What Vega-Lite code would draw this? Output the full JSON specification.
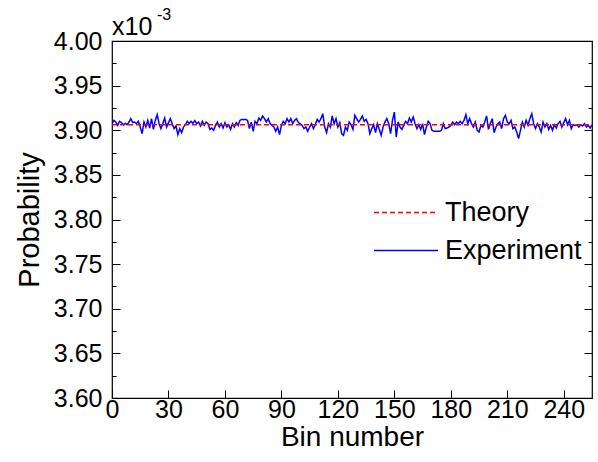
{
  "$schema": "https://vega.github.io/schema/vega-lite/v6.json",
  "autosize": {"type": "none"},
  "width": 480,
  "height": 357,
  "padding": {"left": 112, "top": 41, "right": 6, "bottom": 64},
  "background": "white",
  "config": {
    "font": "Liberation Sans",
    "view": {"stroke": "black", "strokeWidth": 1.2},
    "axis": {"labelFont": "Liberation Sans", "titleFont": "Liberation Sans", "labelColor": "black", "titleColor": "black", "domainColor": "black", "tickColor": "black", "grid": false, "titleFontWeight": "normal"}
  },
  "datasets": {
    "experiment": [
      {"bin":0,"p":3.9074,"series":"Experiment"},{"bin":1,"p":3.9111,"series":"Experiment"},{"bin":2,"p":3.9092,"series":"Experiment"},{"bin":3,"p":3.9055,"series":"Experiment"},{"bin":4,"p":3.9100,"series":"Experiment"},{"bin":5,"p":3.9085,"series":"Experiment"},{"bin":6,"p":3.9062,"series":"Experiment"},{"bin":7,"p":3.9077,"series":"Experiment"},{"bin":8,"p":3.9062,"series":"Experiment"},{"bin":9,"p":3.9092,"series":"Experiment"},
      {"bin":10,"p":3.9130,"series":"Experiment"},{"bin":11,"p":3.9085,"series":"Experiment"},{"bin":12,"p":3.9092,"series":"Experiment"},{"bin":13,"p":3.9074,"series":"Experiment"},{"bin":14,"p":3.9100,"series":"Experiment"},{"bin":15,"p":3.9036,"series":"Experiment"},{"bin":16,"p":3.8962,"series":"Experiment"},{"bin":17,"p":3.9092,"series":"Experiment"},{"bin":18,"p":3.9036,"series":"Experiment"},{"bin":19,"p":3.9111,"series":"Experiment"},
      {"bin":20,"p":3.9025,"series":"Experiment"},{"bin":21,"p":3.9130,"series":"Experiment"},{"bin":22,"p":3.9010,"series":"Experiment"},{"bin":23,"p":3.9111,"series":"Experiment"},{"bin":24,"p":3.9175,"series":"Experiment"},{"bin":25,"p":3.9074,"series":"Experiment"},{"bin":26,"p":3.9018,"series":"Experiment"},{"bin":27,"p":3.9074,"series":"Experiment"},{"bin":28,"p":3.9137,"series":"Experiment"},{"bin":29,"p":3.9036,"series":"Experiment"},
      {"bin":30,"p":3.9085,"series":"Experiment"},{"bin":31,"p":3.9130,"series":"Experiment"},{"bin":32,"p":3.9074,"series":"Experiment"},{"bin":33,"p":3.9018,"series":"Experiment"},{"bin":34,"p":3.9048,"series":"Experiment"},{"bin":35,"p":3.8951,"series":"Experiment"},{"bin":36,"p":3.9018,"series":"Experiment"},{"bin":37,"p":3.8973,"series":"Experiment"},{"bin":38,"p":3.9036,"series":"Experiment"},{"bin":39,"p":3.9062,"series":"Experiment"},
      {"bin":40,"p":3.9100,"series":"Experiment"},{"bin":41,"p":3.9074,"series":"Experiment"},{"bin":42,"p":3.9100,"series":"Experiment"},{"bin":43,"p":3.9077,"series":"Experiment"},{"bin":44,"p":3.9107,"series":"Experiment"},{"bin":45,"p":3.9074,"series":"Experiment"},{"bin":46,"p":3.9092,"series":"Experiment"},{"bin":47,"p":3.9048,"series":"Experiment"},{"bin":48,"p":3.9100,"series":"Experiment"},{"bin":49,"p":3.9055,"series":"Experiment"},
      {"bin":50,"p":3.9092,"series":"Experiment"},{"bin":51,"p":3.9074,"series":"Experiment"},{"bin":52,"p":3.9010,"series":"Experiment"},{"bin":53,"p":3.9025,"series":"Experiment"},{"bin":54,"p":3.8999,"series":"Experiment"},{"bin":55,"p":3.9055,"series":"Experiment"},{"bin":56,"p":3.9092,"series":"Experiment"},{"bin":57,"p":3.9036,"series":"Experiment"},{"bin":58,"p":3.9074,"series":"Experiment"},{"bin":59,"p":3.9025,"series":"Experiment"},
      {"bin":60,"p":3.9085,"series":"Experiment"},{"bin":61,"p":3.9036,"series":"Experiment"},{"bin":62,"p":3.9062,"series":"Experiment"},{"bin":63,"p":3.9010,"series":"Experiment"},{"bin":64,"p":3.9074,"series":"Experiment"},{"bin":65,"p":3.9036,"series":"Experiment"},{"bin":66,"p":3.9085,"series":"Experiment"},{"bin":67,"p":3.9055,"series":"Experiment"},{"bin":68,"p":3.9111,"series":"Experiment"},{"bin":69,"p":3.9122,"series":"Experiment"},
      {"bin":70,"p":3.9119,"series":"Experiment"},{"bin":71,"p":3.9122,"series":"Experiment"},{"bin":72,"p":3.9111,"series":"Experiment"},{"bin":73,"p":3.9018,"series":"Experiment"},{"bin":74,"p":3.9092,"series":"Experiment"},{"bin":75,"p":3.8988,"series":"Experiment"},{"bin":76,"p":3.9100,"series":"Experiment"},{"bin":77,"p":3.9074,"series":"Experiment"},{"bin":78,"p":3.9137,"series":"Experiment"},{"bin":79,"p":3.9111,"series":"Experiment"},
      {"bin":80,"p":3.9160,"series":"Experiment"},{"bin":81,"p":3.9130,"series":"Experiment"},{"bin":82,"p":3.9092,"series":"Experiment"},{"bin":83,"p":3.9130,"series":"Experiment"},{"bin":84,"p":3.9074,"series":"Experiment"},{"bin":85,"p":3.9055,"series":"Experiment"},{"bin":86,"p":3.9036,"series":"Experiment"},{"bin":87,"p":3.8988,"series":"Experiment"},{"bin":88,"p":3.9036,"series":"Experiment"},{"bin":89,"p":3.8951,"series":"Experiment"},
      {"bin":90,"p":3.9055,"series":"Experiment"},{"bin":91,"p":3.9100,"series":"Experiment"},{"bin":92,"p":3.9074,"series":"Experiment"},{"bin":93,"p":3.9130,"series":"Experiment"},{"bin":94,"p":3.9092,"series":"Experiment"},{"bin":95,"p":3.9130,"series":"Experiment"},{"bin":96,"p":3.9074,"series":"Experiment"},{"bin":97,"p":3.9111,"series":"Experiment"},{"bin":98,"p":3.9130,"series":"Experiment"},{"bin":99,"p":3.9085,"series":"Experiment"},
      {"bin":100,"p":3.9074,"series":"Experiment"},{"bin":101,"p":3.9055,"series":"Experiment"},{"bin":102,"p":3.9018,"series":"Experiment"},{"bin":103,"p":3.9036,"series":"Experiment"},{"bin":104,"p":3.8988,"series":"Experiment"},{"bin":105,"p":3.9036,"series":"Experiment"},{"bin":106,"p":3.9074,"series":"Experiment"},{"bin":107,"p":3.9018,"series":"Experiment"},{"bin":108,"p":3.9062,"series":"Experiment"},{"bin":109,"p":3.9122,"series":"Experiment"},
      {"bin":110,"p":3.9092,"series":"Experiment"},{"bin":111,"p":3.9130,"series":"Experiment"},{"bin":112,"p":3.9186,"series":"Experiment"},{"bin":113,"p":3.9036,"series":"Experiment"},{"bin":114,"p":3.8973,"series":"Experiment"},{"bin":115,"p":3.9074,"series":"Experiment"},{"bin":116,"p":3.9036,"series":"Experiment"},{"bin":117,"p":3.9160,"series":"Experiment"},{"bin":118,"p":3.9074,"series":"Experiment"},{"bin":119,"p":3.9130,"series":"Experiment"},
      {"bin":120,"p":3.9036,"series":"Experiment"},{"bin":121,"p":3.9085,"series":"Experiment"},{"bin":122,"p":3.8962,"series":"Experiment"},{"bin":123,"p":3.8943,"series":"Experiment"},{"bin":124,"p":3.9036,"series":"Experiment"},{"bin":125,"p":3.8999,"series":"Experiment"},{"bin":126,"p":3.9092,"series":"Experiment"},{"bin":127,"p":3.9062,"series":"Experiment"},{"bin":128,"p":3.9010,"series":"Experiment"},{"bin":129,"p":3.9167,"series":"Experiment"},
      {"bin":130,"p":3.9130,"series":"Experiment"},{"bin":131,"p":3.9092,"series":"Experiment"},{"bin":132,"p":3.9122,"series":"Experiment"},{"bin":133,"p":3.9160,"series":"Experiment"},{"bin":134,"p":3.9100,"series":"Experiment"},{"bin":135,"p":3.9122,"series":"Experiment"},{"bin":136,"p":3.9074,"series":"Experiment"},{"bin":137,"p":3.8962,"series":"Experiment"},{"bin":138,"p":3.9018,"series":"Experiment"},{"bin":139,"p":3.9062,"series":"Experiment"},
      {"bin":140,"p":3.8973,"series":"Experiment"},{"bin":141,"p":3.9074,"series":"Experiment"},{"bin":142,"p":3.9010,"series":"Experiment"},{"bin":143,"p":3.8943,"series":"Experiment"},{"bin":144,"p":3.9036,"series":"Experiment"},{"bin":145,"p":3.9092,"series":"Experiment"},{"bin":146,"p":3.9130,"series":"Experiment"},{"bin":147,"p":3.9074,"series":"Experiment"},{"bin":148,"p":3.8962,"series":"Experiment"},{"bin":149,"p":3.9111,"series":"Experiment"},
      {"bin":150,"p":3.9204,"series":"Experiment"},{"bin":151,"p":3.8924,"series":"Experiment"},{"bin":152,"p":3.9092,"series":"Experiment"},{"bin":153,"p":3.9036,"series":"Experiment"},{"bin":154,"p":3.9010,"series":"Experiment"},{"bin":155,"p":3.9055,"series":"Experiment"},{"bin":156,"p":3.9100,"series":"Experiment"},{"bin":157,"p":3.9074,"series":"Experiment"},{"bin":158,"p":3.9137,"series":"Experiment"},{"bin":159,"p":3.9092,"series":"Experiment"},
      {"bin":160,"p":3.9149,"series":"Experiment"},{"bin":161,"p":3.9074,"series":"Experiment"},{"bin":162,"p":3.9018,"series":"Experiment"},{"bin":163,"p":3.9062,"series":"Experiment"},{"bin":164,"p":3.9010,"series":"Experiment"},{"bin":165,"p":3.9074,"series":"Experiment"},{"bin":166,"p":3.8951,"series":"Experiment"},{"bin":167,"p":3.9036,"series":"Experiment"},{"bin":168,"p":3.9100,"series":"Experiment"},{"bin":169,"p":3.9074,"series":"Experiment"},
      {"bin":170,"p":3.8999,"series":"Experiment"},{"bin":171,"p":3.8988,"series":"Experiment"},{"bin":172,"p":3.8988,"series":"Experiment"},{"bin":173,"p":3.8988,"series":"Experiment"},{"bin":174,"p":3.8988,"series":"Experiment"},{"bin":175,"p":3.8999,"series":"Experiment"},{"bin":176,"p":3.9074,"series":"Experiment"},{"bin":177,"p":3.9018,"series":"Experiment"},{"bin":178,"p":3.9025,"series":"Experiment"},{"bin":179,"p":3.9036,"series":"Experiment"},
      {"bin":180,"p":3.9055,"series":"Experiment"},{"bin":181,"p":3.9092,"series":"Experiment"},{"bin":182,"p":3.9062,"series":"Experiment"},{"bin":183,"p":3.9092,"series":"Experiment"},{"bin":184,"p":3.9074,"series":"Experiment"},{"bin":185,"p":3.9100,"series":"Experiment"},{"bin":186,"p":3.9074,"series":"Experiment"},{"bin":187,"p":3.9111,"series":"Experiment"},{"bin":188,"p":3.9175,"series":"Experiment"},{"bin":189,"p":3.9074,"series":"Experiment"},
      {"bin":190,"p":3.9130,"series":"Experiment"},{"bin":191,"p":3.9074,"series":"Experiment"},{"bin":192,"p":3.9036,"series":"Experiment"},{"bin":193,"p":3.9092,"series":"Experiment"},{"bin":194,"p":3.8999,"series":"Experiment"},{"bin":195,"p":3.8981,"series":"Experiment"},{"bin":196,"p":3.9055,"series":"Experiment"},{"bin":197,"p":3.9036,"series":"Experiment"},{"bin":198,"p":3.9092,"series":"Experiment"},{"bin":199,"p":3.9160,"series":"Experiment"},
      {"bin":200,"p":3.9010,"series":"Experiment"},{"bin":201,"p":3.9074,"series":"Experiment"},{"bin":202,"p":3.9130,"series":"Experiment"},{"bin":203,"p":3.8973,"series":"Experiment"},{"bin":204,"p":3.9036,"series":"Experiment"},{"bin":205,"p":3.9074,"series":"Experiment"},{"bin":206,"p":3.9092,"series":"Experiment"},{"bin":207,"p":3.9018,"series":"Experiment"},{"bin":208,"p":3.9130,"series":"Experiment"},{"bin":209,"p":3.9167,"series":"Experiment"},
      {"bin":210,"p":3.9092,"series":"Experiment"},{"bin":211,"p":3.9074,"series":"Experiment"},{"bin":212,"p":3.9111,"series":"Experiment"},{"bin":213,"p":3.9018,"series":"Experiment"},{"bin":214,"p":3.9036,"series":"Experiment"},{"bin":215,"p":3.8981,"series":"Experiment"},{"bin":216,"p":3.8906,"series":"Experiment"},{"bin":217,"p":3.8999,"series":"Experiment"},{"bin":218,"p":3.9092,"series":"Experiment"},{"bin":219,"p":3.9036,"series":"Experiment"},
      {"bin":220,"p":3.9111,"series":"Experiment"},{"bin":221,"p":3.9055,"series":"Experiment"},{"bin":222,"p":3.9130,"series":"Experiment"},{"bin":223,"p":3.9186,"series":"Experiment"},{"bin":224,"p":3.9074,"series":"Experiment"},{"bin":225,"p":3.9018,"series":"Experiment"},{"bin":226,"p":3.9074,"series":"Experiment"},{"bin":227,"p":3.9036,"series":"Experiment"},{"bin":228,"p":3.8981,"series":"Experiment"},{"bin":229,"p":3.9092,"series":"Experiment"},
      {"bin":230,"p":3.9036,"series":"Experiment"},{"bin":231,"p":3.9074,"series":"Experiment"},{"bin":232,"p":3.9010,"series":"Experiment"},{"bin":233,"p":3.9055,"series":"Experiment"},{"bin":234,"p":3.8999,"series":"Experiment"},{"bin":235,"p":3.9062,"series":"Experiment"},{"bin":236,"p":3.9025,"series":"Experiment"},{"bin":237,"p":3.9074,"series":"Experiment"},{"bin":238,"p":3.9100,"series":"Experiment"},{"bin":239,"p":3.9036,"series":"Experiment"},
      {"bin":240,"p":3.9085,"series":"Experiment"},{"bin":241,"p":3.9130,"series":"Experiment"},{"bin":242,"p":3.9062,"series":"Experiment"},{"bin":243,"p":3.9111,"series":"Experiment"},{"bin":244,"p":3.9018,"series":"Experiment"},{"bin":245,"p":3.9062,"series":"Experiment"},{"bin":246,"p":3.9055,"series":"Experiment"},{"bin":247,"p":3.9062,"series":"Experiment"},{"bin":248,"p":3.9036,"series":"Experiment"},{"bin":249,"p":3.9062,"series":"Experiment"},
      {"bin":250,"p":3.9048,"series":"Experiment"},{"bin":251,"p":3.9074,"series":"Experiment"},{"bin":252,"p":3.9036,"series":"Experiment"},{"bin":253,"p":3.9055,"series":"Experiment"},{"bin":254,"p":3.9025,"series":"Experiment"},{"bin":255,"p":3.9062,"series":"Experiment"}
    ],
    "theory": [
      {"bin":0,"p":3.90625,"series":"Theory"},
      {"bin":255,"p":3.90625,"series":"Theory"}
    ],
    "scale": [{"bin":0,"p":4.0,"text":"x10","sup":"-3"}]
  },
  "layer": [
    {
      "data": {"name": "experiment"},
      "mark": {"type": "line", "strokeWidth": 1.5, "clip": true},
      "encoding": {
        "x": {"field": "bin", "type": "quantitative", "scale": {"domain": [0, 255], "nice": false, "zero": false},
          "axis": {"title": "Bin number", "titleFontSize": 28, "titlePadding": 1, "labelFontSize": 25, "values": [0,15,30,45,60,75,90,105,120,135,150,165,180,195,210,225,240],
            "labelExpr": "datum.value % 30 === 0 ? datum.label : ''", "labelOverlap": false, "labelPadding": 7, "labelFlush": false,
            "tickSize": {"condition": {"test": "datum.value % 30 === 0", "value": -8}, "value": -4}, "domain": false}},
        "y": {"field": "p", "type": "quantitative", "scale": {"domain": [3.6, 4.0], "nice": false, "zero": false},
          "axis": {"title": "Probability", "titleFontSize": 29, "titlePadding": 9, "labelFontSize": 25, "format": ".2f",
            "values": [3.6,3.625,3.65,3.675,3.7,3.725,3.75,3.775,3.8,3.825,3.85,3.875,3.9,3.925,3.95,3.975,4.0],
            "labelExpr": "round(datum.value*1000) % 50 === 0 ? datum.label : ''", "labelOverlap": false, "labelPadding": 18, "labelFlush": false,
            "tickSize": {"condition": {"test": "round(datum.value*1000) % 50 === 0", "value": -8}, "value": -4}, "domain": false}},
        "color": {"field": "series", "type": "nominal", "scale": {"domain": ["Theory", "Experiment"], "range": ["#ff0000", "#0000ff"]},
          "legend": {"title": null, "orient": "none", "legendX": 261, "legendY": 159, "symbolType": "stroke", "symbolSize": 4096, "symbolStrokeWidth": 1.5, "labelFontSize": 27, "labelFont": "Liberation Sans", "labelColor": "black", "labelOffset": 6, "clipHeight": 25, "rowPadding": 10, "padding": 0}},
        "strokeDash": {"field": "series", "type": "nominal", "scale": {"domain": ["Theory", "Experiment"], "range": [[5, 3], [1, 0]]}}
      }
    },
    {
      "data": {"name": "theory"},
      "mark": {"type": "line", "strokeWidth": 1.5},
      "encoding": {
        "x": {"field": "bin", "type": "quantitative"},
        "y": {"field": "p", "type": "quantitative",
          "axis": {"orient": "right", "title": null, "labels": false, "domain": false,
            "values": [3.6,3.625,3.65,3.675,3.7,3.725,3.75,3.775,3.8,3.825,3.85,3.875,3.9,3.925,3.95,3.975,4.0],
            "tickSize": {"condition": {"test": "round(datum.value*1000) % 50 === 0", "value": -8}, "value": -4}}},
        "color": {"field": "series", "type": "nominal"},
        "strokeDash": {"field": "series", "type": "nominal"}
      }
    },
    {
      "data": {"name": "scale"},
      "mark": {"type": "text", "align": "left", "baseline": "alphabetic", "fontSize": 25, "font": "Liberation Sans", "dy": -6, "color": "black"},
      "encoding": {
        "x": {"field": "bin", "type": "quantitative"},
        "y": {"field": "p", "type": "quantitative", "axis": null},
        "text": {"field": "text"}
      }
    },
    {
      "data": {"name": "scale"},
      "mark": {"type": "text", "align": "left", "baseline": "alphabetic", "fontSize": 16, "font": "Liberation Sans", "dx": 45, "dy": -21, "color": "black"},
      "encoding": {
        "x": {"field": "bin", "type": "quantitative"},
        "y": {"field": "p", "type": "quantitative", "axis": null},
        "text": {"field": "sup"}
      }
    }
  ],
  "resolve": {"axis": {"y": "independent"}}
}
